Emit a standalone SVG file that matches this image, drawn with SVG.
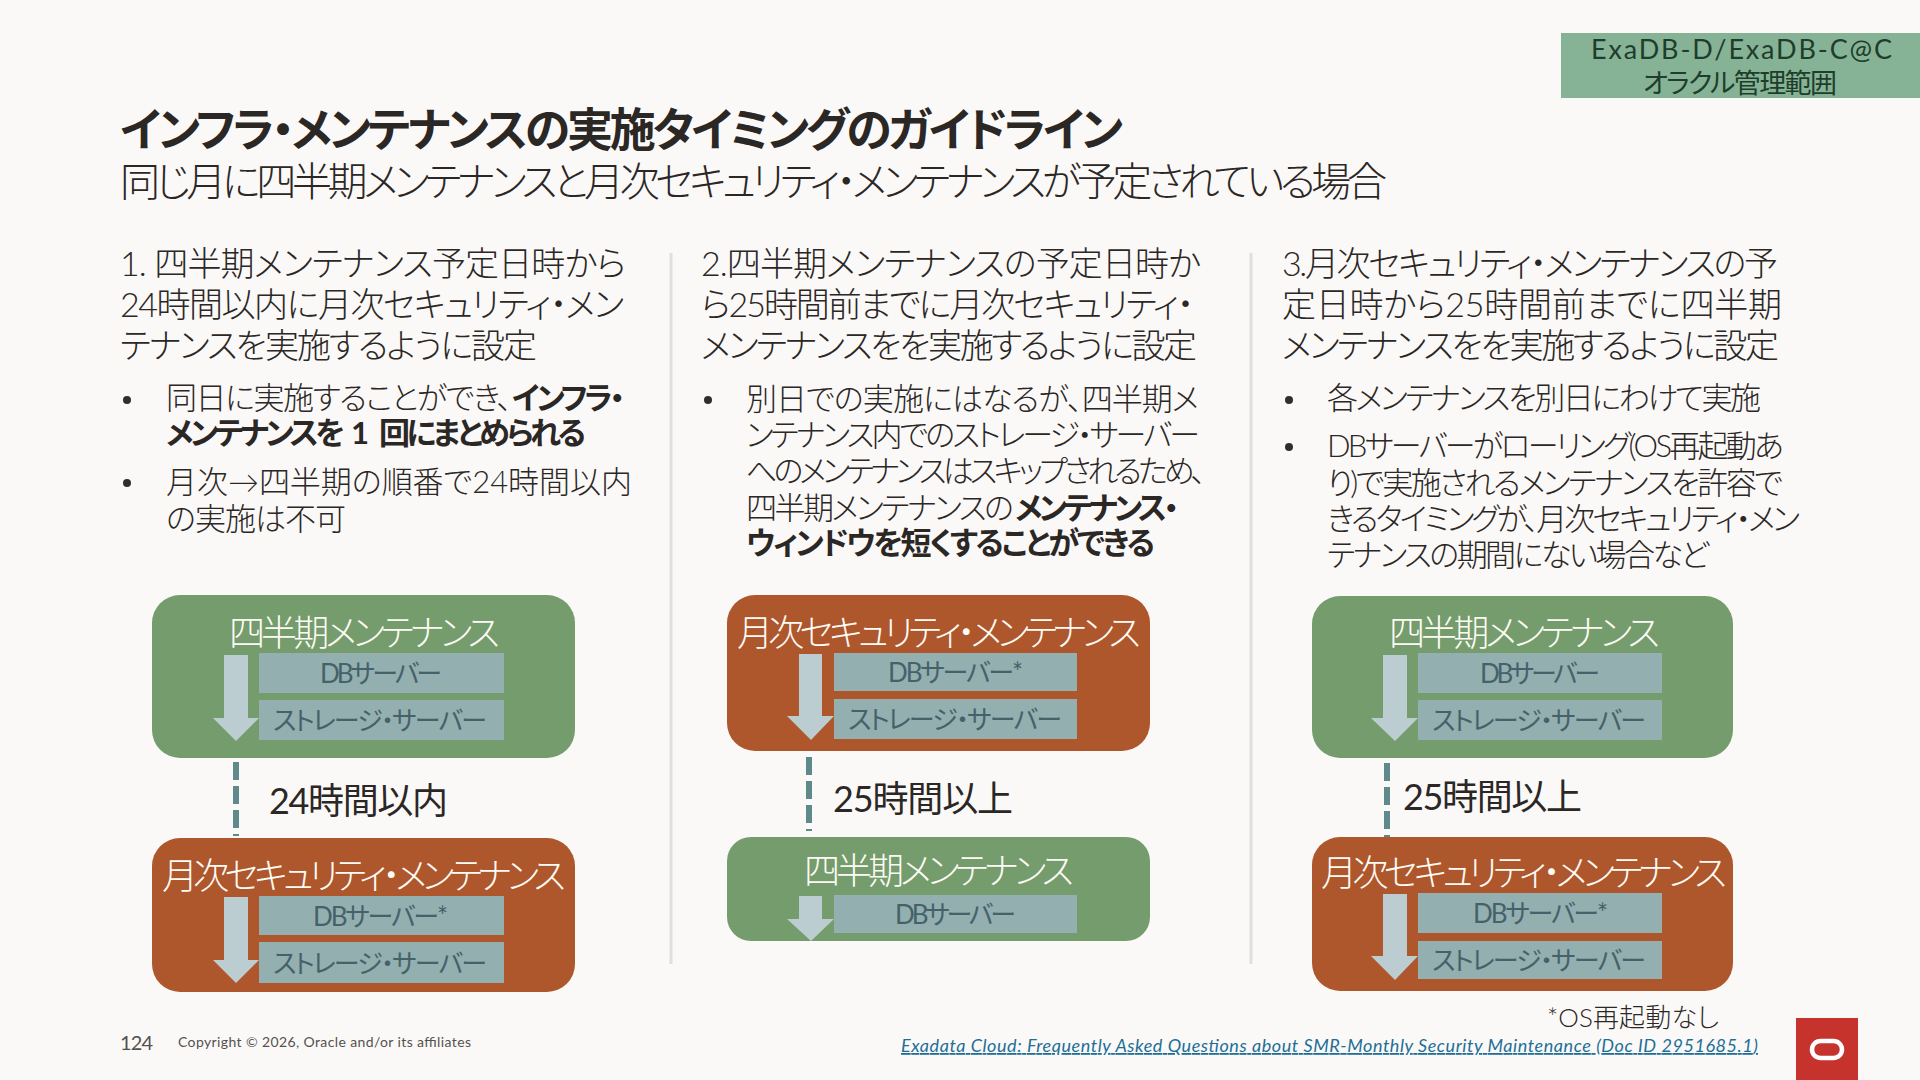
<svg xmlns="http://www.w3.org/2000/svg" width="1920" height="1080" viewBox="0 0 1920 1080">
<style>
text{font-family:Lato,"Noto Sans CJK JP",sans-serif;font-feature-settings:"palt";fill:#2b2725;font-weight:300}
.b{font-weight:700}
.t{font-size:46px}
.s{font-size:40px}
.h{font-size:34px}
.p{font-size:31px}
.bt{font-size:36px;fill:#fdfbf5}
.in{font-size:26px;fill:#45626b;font-weight:400}
.lb{font-size:36px;font-weight:400}
.tag{font-size:27px;fill:#1f3d2c;font-weight:400}
.grn{fill:#759c6c}
.org{fill:#ae562c}
.inr{fill:#94afaf}
.arw{fill:#bbcdd0}
.dash{stroke:#5f8a8b;stroke-width:6;stroke-dasharray:18 6;fill:none}
.div{stroke:#dfdfdd;stroke-width:3;fill:none}
.dot{fill:#312d2a}
</style>
<rect width="1920" height="1080" fill="#fbf9f8"/>

<g id="tag">
<rect x="1561" y="33" width="359" height="65" fill="#86b395"/>
<text class="tag" x="1591" y="59" textLength="301">ExaDB-D/ExaDB-C@C</text>
<text class="tag" x="1643" y="93" textLength="194">オラクル管理範囲</text>
</g>

<g id="title">
<text class="t b" x="120" y="146" textLength="1003">インフラ・メンテナンスの実施タイミングのガイドライン</text>
<text class="s" x="120" y="196" textLength="1267">同じ月に四半期メンテナンスと月次セキュリティ・メンテナンスが予定されている場合</text>
</g>

<g id="dividers">
<line class="div" x1="671" y1="253" x2="671" y2="964"/>
<line class="div" x1="1251" y1="253" x2="1251" y2="964"/>
</g>

<g id="col1-text">
<text class="h" x="120" y="276" textLength="506">1. 四半期メンテナンス予定日時から</text>
<text class="h" x="120" y="317" textLength="504">24時間以内に月次セキュリティ・メン</text>
<text class="h" x="120" y="358" textLength="417">テナンスを実施するように設定</text>
<circle class="dot" cx="127" cy="400" r="4"/>
<text class="p" x="166" y="409" textLength="346">同日に実施することができ、</text>
<text class="p b" x="512" y="409" textLength="113">インフラ・</text>
<text class="p b" x="166" y="444" textLength="179">メンテナンスを</text>
<text class="p b" x="351" y="444">1</text>
<text class="p b" x="379" y="444" textLength="207">回にまとめられる</text>
<circle class="dot" cx="127" cy="483" r="4"/>
<text class="p" x="166" y="493" textLength="466">月次→四半期の順番で24時間以内</text>
<text class="p" x="166" y="530" textLength="180">の実施は不可</text>
</g>

<g id="col2-text">
<text class="h" x="701" y="276" textLength="500">2.四半期メンテナンスの予定日時か</text>
<text class="h" x="701" y="317" textLength="493">ら25時間前までに月次セキュリティ・</text>
<text class="h" x="701" y="358" textLength="496">メンテナンスをを実施するように設定</text>
<circle class="dot" cx="708" cy="400" r="4"/>
<text class="p" x="746" y="410" textLength="453">別日での実施にはなるが、四半期メ</text>
<text class="p" x="746" y="446" textLength="454">ンテナンス内でのストレージ・サーバー</text>
<text class="p" x="746" y="482" textLength="460">へのメンテナンスはスキップされるため、</text>
<text class="p" x="746" y="519" textLength="268">四半期メンテナンスの</text>
<text class="p b" x="1015" y="519" textLength="164">メンテナンス・</text>
<text class="p b" x="746" y="554" textLength="409">ウィンドウを短くすることができる</text>
</g>

<g id="col3-text">
<text class="h" x="1282" y="276" textLength="496">3.月次セキュリティ・メンテナンスの予</text>
<text class="h" x="1282" y="317" textLength="500">定日時から25時間前までに四半期</text>
<text class="h" x="1282" y="358" textLength="497">メンテナンスをを実施するように設定</text>
<circle class="dot" cx="1289" cy="400" r="4"/>
<text class="p" x="1327" y="409" textLength="434">各メンテナンスを別日にわけて実施</text>
<circle class="dot" cx="1289" cy="447" r="4"/>
<text class="p" x="1327" y="457" textLength="457">DBサーバーがローリング(OS再起動あ</text>
<text class="p" x="1327" y="494" textLength="456">り)で実施されるメンテナンスを許容で</text>
<text class="p" x="1327" y="530" textLength="473">きるタイミングが、月次セキュリティ・メン</text>
<text class="p" x="1327" y="566" textLength="382">テナンスの期間にない場合など</text>
</g>

<g id="connectors">
<line class="dash" x1="236" y1="762" x2="236" y2="836"/>
<line class="dash" x1="809" y1="757" x2="809" y2="831"/>
<line class="dash" x1="1387" y1="763" x2="1387" y2="837"/>
</g>

<g id="node-c1-quarterly">
<rect class="grn" x="152" y="595" width="423" height="163" rx="28"/>
<text class="bt" x="229" y="646" textLength="271">四半期メンテナンス</text>
<polygon class="arw" points="224,655 248,655 248,718 259,718 236,741 213,718 224,718"/>
<rect class="inr" x="259" y="653" width="245" height="40"/>
<text class="in" x="320" y="683" textLength="122">DBサーバー</text>
<rect class="inr" x="259" y="700" width="245" height="40"/>
<text class="in" x="273" y="730" textLength="214">ストレージ・サーバー</text>
</g>
<g id="label-c1"><text class="lb" x="269" y="814" textLength="179">24時間以内</text></g>
<g id="node-c1-monthly">
<rect class="org" x="152" y="838" width="423" height="154" rx="28"/>
<text class="bt" x="162" y="889" textLength="404">月次セキュリティ・メンテナンス</text>
<polygon class="arw" points="224,897 248,897 248,960 259,960 236,983 213,960 224,960"/>
<rect class="inr" x="259" y="896" width="245" height="39"/>
<text class="in" x="313" y="926" textLength="135">DBサーバー*</text>
<rect class="inr" x="259" y="942" width="245" height="41"/>
<text class="in" x="273" y="973" textLength="214">ストレージ・サーバー</text>
</g>

<g id="node-c2-monthly">
<rect class="org" x="727" y="595" width="423" height="156" rx="28"/>
<text class="bt" x="737" y="646" textLength="404">月次セキュリティ・メンテナンス</text>
<polygon class="arw" points="799,654 822,654 822,716 834,716 811,740 787,716 799,716"/>
<rect class="inr" x="834" y="653" width="243" height="38"/>
<text class="in" x="888" y="682" textLength="135">DBサーバー*</text>
<rect class="inr" x="834" y="699" width="243" height="40"/>
<text class="in" x="848" y="729" textLength="214">ストレージ・サーバー</text>
</g>
<g id="label-c2"><text class="lb" x="833" y="812" textLength="180">25時間以上</text></g>
<g id="node-c2-quarterly">
<rect class="grn" x="727" y="837" width="423" height="104" rx="24"/>
<text class="bt" x="804" y="884" textLength="270">四半期メンテナンス</text>
<polygon class="arw" points="799,896 822,896 822,919 834,919 811,941 787,919 799,919"/>
<rect class="inr" x="834" y="895" width="243" height="38"/>
<text class="in" x="895" y="924" textLength="121">DBサーバー</text>
</g>

<g id="node-c3-quarterly">
<rect class="grn" x="1312" y="596" width="421" height="162" rx="28"/>
<text class="bt" x="1389" y="646" textLength="271">四半期メンテナンス</text>
<polygon class="arw" points="1383,655 1407,655 1407,718 1418,718 1395,741 1371,718 1383,718"/>
<rect class="inr" x="1418" y="653" width="244" height="40"/>
<text class="in" x="1480" y="683" textLength="120">DBサーバー</text>
<rect class="inr" x="1418" y="700" width="244" height="40"/>
<text class="in" x="1432" y="730" textLength="214">ストレージ・サーバー</text>
</g>
<g id="label-c3"><text class="lb" x="1403" y="810" textLength="179">25時間以上</text></g>
<g id="node-c3-monthly">
<rect class="org" x="1312" y="837" width="421" height="154" rx="28"/>
<text class="bt" x="1321" y="886" textLength="406">月次セキュリティ・メンテナンス</text>
<polygon class="arw" points="1383,894 1407,894 1407,956 1418,956 1395,980 1371,956 1383,956"/>
<rect class="inr" x="1418" y="893" width="244" height="40"/>
<text class="in" x="1473" y="923" textLength="135">DBサーバー*</text>
<rect class="inr" x="1418" y="941" width="244" height="38"/>
<text class="in" x="1432" y="970" textLength="214">ストレージ・サーバー</text>
</g>

<g id="footer">
<text x="1547" y="1027" textLength="172" style="font-size:26px">*OS再起動なし</text>
<text x="901" y="1052" textLength="857" style="font-size:18px;font-style:italic;fill:#1e6f96;text-decoration:underline;font-weight:400">Exadata Cloud: Frequently Asked Questions about SMR-Monthly Security Maintenance (Doc ID 2951685.1)</text>
<text x="120" y="1050" textLength="33" style="font-size:20px;fill:#55514e;font-weight:400">124</text>
<text x="178" y="1047" textLength="293" style="font-size:14px;fill:#55514e;font-weight:400">Copyright © 2026, Oracle and/or its affiliates</text>
</g>

<g id="logo">
<rect x="1796" y="1018" width="62" height="62" fill="#c5332c"/>
<rect x="1812" y="1041" width="30" height="17" rx="8.5" fill="none" stroke="#fff" stroke-width="4.5"/>
</g>
</svg>
